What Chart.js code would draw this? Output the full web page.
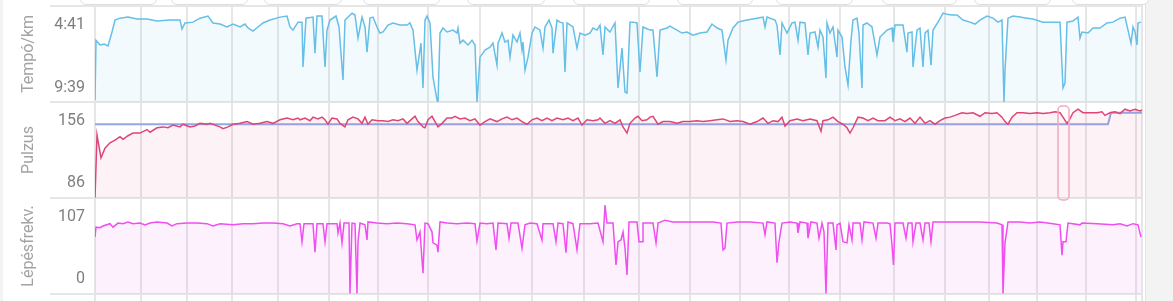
<!DOCTYPE html>
<html lang="hu">
<head>
<meta charset="utf-8">
<title>Tempó, pulzus, lépésfrekvencia</title>
<script src="https://cdn.jsdelivr.net/npm/chart.js@4.4.1/dist/chart.umd.min.js"></script>
<style>
  html, body { margin: 0; padding: 0; background: #f3f3f3; overflow: hidden; }
  #wrap { position: absolute; left: 3px; top: 0; width: 1142px; height: 301px; background: #fff; border-right: 1px solid #e4e4e4; }
  .chip { position: absolute; top: -12px; height: 17px; box-sizing: border-box; background: #fff; border: 1px solid #dedede; border-radius: 6px; z-index: 2; }
</style>
</head>
<body>
<div id="wrap"><canvas id="runChart" width="1142" height="301"></canvas></div>
<div class="chip" style="left:80px;width:77px"></div>
<div class="chip" style="left:171px;width:77px"></div>
<div class="chip" style="left:264px;width:78px"></div>
<div class="chip" style="left:363px;width:77px"></div>
<div class="chip" style="left:467px;width:78px"></div>
<div class="chip" style="left:573px;width:77px"></div>
<div class="chip" style="left:677px;width:76px"></div>
<div class="chip" style="left:776px;width:77px"></div>
<div class="chip" style="left:882px;width:75px"></div>
<div class="chip" style="left:974px;width:77px"></div>
<div class="chip" style="left:1072px;width:77px"></div>
<script>
// elapsed time in minutes, km split times
const totalMinutes = 104.7;
const kmMarks = [4.6, 9.2, 13.7, 18.3, 23.4, 28.3, 33.3, 38.5, 43.7, 48.9, 54.4, 59.5, 64.5, 69.4, 74.5, 79.9, 85.0, 89.4, 94.2, 99.1, 104.1];

// pace in seconds per km
const paceTime = [0,0.1,0.5,0.9,1.3,1.7,2.0,2.5,3.3,4.2,
  5.2,6.2,7.5,8.5,8.7,9.0,9.8,10.5,11.3,11.8,
  12.5,13.2,13.8,14.5,15.0,15.3,15.8,16.3,16.8,17.5,
  18.5,19.2,19.5,19.8,20.3,20.7,20.8,21.1,21.8,22.0,
  22.2,22.7,23.0,23.2,23.5,24.1,24.4,24.8,25.0,25.7,
  26.0,26.3,26.7,27.0,27.2,27.5,27.8,28.2,28.5,28.8,
  29.3,29.8,30.5,31.2,31.5,31.8,32.2,32.6,32.8,33.0,
  33.2,33.5,33.8,34.2,34.3,34.5,34.8,35.2,35.8,36.2,
  36.3,36.5,36.8,37.3,37.7,38.0,38.2,38.5,39.0,39.5,
  39.8,40.2,40.3,40.7,41.0,41.3,41.5,41.8,42.2,42.5,
  42.7,42.8,43.0,43.3,43.7,44.0,44.5,44.8,45.0,45.4,
  45.7,45.8,46.2,46.5,46.8,47.0,47.2,47.8,48.2,48.5,
  49.0,49.5,49.8,50.2,50.5,50.8,51.0,51.5,52.0,52.3,
  52.7,52.8,53.0,53.2,53.5,53.8,54.2,54.5,54.8,55.5,
  55.8,56.2,56.5,57.2,57.5,58.2,58.7,59.2,59.8,60.5,
  61.2,61.7,62.2,62.7,63.1,63.3,63.8,64.3,65.2,66.2,
  66.8,67.0,67.2,68.0,68.2,68.5,68.7,69.2,69.7,70.0,
  70.3,70.5,71.0,71.3,71.5,72.0,72.3,72.5,72.8,73.1,
  73.2,73.5,73.8,74.2,74.3,74.7,75.0,75.3,75.6,75.8,
  76.2,76.4,76.7,76.8,77.2,77.7,78.2,78.5,79.2,79.7,
  79.8,80.0,80.8,81.2,81.3,81.7,81.8,82.2,82.5,82.8,
  83.0,83.3,83.6,83.8,84.3,84.8,85.2,85.7,86.2,86.8,
  87.5,88.0,88.5,89.2,89.8,90.3,90.7,90.9,91.0,91.3,
  91.8,92.5,93.2,93.8,94.8,95.8,96.5,96.8,97.0,97.2,
  97.8,98.3,98.5,98.7,99.3,99.8,100.5,101.2,101.8,102.5,
  103.0,103.3,103.6,103.8,104.0,104.2,104.3,104.6];
const paceValues = [639,353,376,372,381,314,257,248,243,252,
  252,262,257,257,300,271,267,248,238,271,
  276,290,276,290,276,295,310,290,271,257,
  243,238,290,305,267,267,481,248,243,415,
  238,238,481,305,257,238,290,543,257,224,
  233,343,243,290,410,248,243,290,319,314,
  281,271,281,281,271,305,496,367,581,257,
  238,271,529,639,648,319,295,314,305,319,
  295,367,353,376,353,376,648,434,400,386,
  367,472,367,319,362,353,434,329,362,319,
  400,362,496,434,319,290,305,391,290,257,
  295,415,257,267,271,505,271,290,391,319,
  329,319,295,305,281,424,290,314,271,581,
  391,462,600,605,267,267,271,505,290,305,
  305,529,305,295,286,305,319,314,329,319,
  314,276,295,305,448,353,295,267,257,248,
  243,290,243,257,281,424,271,319,271,267,
  353,267,271,424,319,314,386,305,338,534,
  271,319,290,434,305,338,481,567,353,257,
  248,319,581,281,271,290,424,338,305,295,
  362,281,281,410,319,314,481,305,295,481,
  319,305,472,305,267,224,229,233,233,257,
  267,276,257,238,248,267,257,648,496,248,
  238,243,248,252,267,267,267,581,558,267,
  262,243,343,314,319,295,295,271,267,248,
  243,305,367,290,314,376,271,267];

// heart rate, bpm
const hrTime = [0,0.2,0.6,1.0,1.5,2.0,2.5,2.8,3.3,3.8,
  4.5,5.2,5.5,6.2,6.8,7.3,7.8,8.5,8.8,9.5,
  10.0,10.5,11.2,11.5,12.5,12.8,13.3,13.8,14.5,15.2,
  15.8,16.5,17.2,17.8,18.5,19.2,19.8,20.3,20.5,21.0,
  21.5,21.8,22.3,22.7,23.0,23.3,23.7,24.2,24.5,25.0,
  25.3,25.8,26.3,26.7,27.0,27.3,27.7,28.3,28.8,29.3,
  29.8,30.3,30.8,31.2,31.7,32.0,32.3,32.8,33.0,33.3,
  33.7,34.0,34.3,34.7,35.2,35.7,36.0,36.5,37.0,37.5,
  38.0,38.5,39.0,39.5,40.2,40.7,41.2,41.7,42.2,42.7,
  43.2,43.7,44.2,44.7,45.2,45.7,46.2,46.8,47.3,47.8,
  48.3,48.7,49.2,49.8,50.3,50.5,51.0,51.5,52.0,52.5,
  52.8,53.2,53.5,54.0,54.3,54.7,55.2,55.5,55.8,56.3,
  56.8,57.5,58.2,58.8,59.5,60.2,60.8,61.5,62.2,62.8,
  63.5,64.2,64.8,65.5,66.2,66.8,67.3,67.8,68.3,68.7,
  69.0,69.5,70.2,70.8,71.5,72.2,72.6,72.8,73.3,73.8,
  74.3,74.8,75.2,75.5,75.8,76.3,76.8,77.3,77.8,78.3,
  79.0,79.5,80.0,80.5,81.0,81.5,82.0,82.5,83.0,83.5,
  84.0,84.5,85.0,85.5,86.0,86.7,87.2,87.8,88.5,89.0,
  89.7,90.2,90.7,91.0,91.3,91.7,92.2,92.8,93.5,94.2,
  94.8,95.5,96.0,96.5,96.8,97.2,97.4,97.8,98.3,98.8,
  99.5,100.2,100.7,101.0,101.5,102.0,102.5,103.0,103.5,104.0,
  104.5,104.7];
const hrValues = [69,140,114,125,131,134,138,135,139,142,
  142,146,143,148,149,148,151,149,152,149,
  150,153,152,153,149,147,149,152,153,155,
  152,153,155,153,157,159,157,159,157,159,
  156,160,158,160,157,152,159,158,153,149,
  157,160,158,153,160,152,157,156,156,155,
  157,156,158,153,158,161,155,149,148,157,
  161,155,149,153,159,159,161,158,159,156,
  158,151,155,158,155,158,160,157,159,155,
  152,157,159,156,159,156,159,157,159,156,
  159,151,157,156,157,159,153,156,153,157,
  149,142,153,159,161,156,157,160,161,152,
  155,155,153,155,155,156,155,156,157,158,
  155,156,155,152,155,159,153,156,155,160,
  150,156,158,156,158,156,144,156,157,160,
  155,152,148,142,148,160,159,156,159,156,
  156,160,156,158,155,159,153,160,153,156,
  152,156,159,160,162,165,164,165,161,165,
  164,165,160,155,152,160,165,165,164,165,
  164,165,166,165,160,153,156,165,169,165,
  165,165,166,162,165,166,164,169,167,169,
  167,168];

// reference heart rate line
const zoneTime = [0, 101.3, 101.6, 104.7];
const zoneValues = [152, 152, 165, 165];

// cadence, steps per minute
const cadTime = [0,0.1,0.5,0.8,1.5,1.8,2.3,2.8,3.3,3.8,
  4.5,5.0,5.5,6.2,7.2,7.7,8.2,9.2,10.2,11.2,
  11.8,12.5,13.8,14.8,15.8,16.8,17.8,18.8,19.5,20.2,
  20.5,20.7,20.9,21.8,22.0,22.2,22.8,23.0,23.2,24.2,
  24.3,24.5,24.7,24.9,25.4,25.5,25.7,26.0,26.2,26.3,
  26.5,27.0,27.2,27.3,28.2,29.2,30.2,31.2,32.0,32.2,
  32.5,32.8,33.0,33.3,33.7,33.8,34.2,34.3,34.5,35.2,
  36.2,37.2,38.0,38.2,38.5,39.2,39.8,40.1,40.3,41.2,
  41.4,41.6,42.3,42.7,43.0,43.5,44.2,44.7,44.8,45.8,
  46.1,46.3,46.8,47.1,47.3,47.8,48.2,48.5,49.5,50.3,
  50.8,51.0,51.2,51.8,52.1,52.3,52.6,52.8,53.0,53.2,
  53.4,54.2,54.4,54.7,54.8,55.8,56.1,56.3,57.0,57.8,
  59.2,60.5,61.8,62.6,62.8,63.0,63.2,64.2,65.5,66.8,
  67.0,67.2,68.0,68.2,68.4,68.7,69.5,70.2,70.3,70.5,
  71.2,71.3,71.6,72.2,72.4,72.7,72.9,73.1,73.3,73.8,
  74.1,74.2,74.5,74.8,75.2,75.4,75.7,75.8,76.5,76.7,
  76.9,77.8,78.1,78.3,79.2,79.5,79.7,79.85,80.0,80.8,
  81.1,81.3,81.7,81.8,82.1,82.5,82.8,83.0,83.4,83.6,
  83.8,85.2,86.8,88.5,90.2,90.7,90.8,91.0,91.3,92.5,
  93.5,94.5,95.8,96.5,96.7,96.8,97.1,97.3,98.5,98.7,
  100.2,101.8,102.5,103.2,103.8,104.3,104.6];
const cadValues = [72,89,88,91,95,89,96,95,98,95,
  96,93,96,98,96,91,95,96,96,95,
  91,95,93,95,95,96,96,95,91,95,
  95,64,95,95,46,95,95,64,95,95,
  79,96,62,96,96,-25,96,95,-25,64,
  96,93,67,98,96,95,96,95,93,67,
  81,10,96,95,81,62,58,46,98,96,
  95,96,95,65,96,95,96,50,96,95,
  70,96,96,53,93,96,95,67,95,95,
  64,96,95,45,98,95,50,95,95,96,
  64,127,96,96,24,64,67,81,53,7,
  98,98,64,64,96,96,62,96,101,98,
  98,98,98,96,50,53,96,98,98,96,
  76,98,96,28,64,96,98,96,79,98,
  96,70,98,96,70,96,81,-25,96,96,
  50,93,96,64,62,93,67,96,96,67,
  98,96,70,96,96,95,58,24,96,96,
  70,96,96,64,96,96,67,96,96,64,
  98,98,98,98,96,93,-25,62,98,98,
  96,98,95,93,41,64,64,96,93,96,
  95,93,95,91,95,93,72];

const paceTicks = [281, 579];
const hrTicks = [86, 156];
const cadTicks = [0, 107];
const highlightRange = [96.3, 97.4];

const paceRange = [190, 648];
const hrRange = [68.7, 177.1];
const cadRange = [-25.8, 139.1];

function pairs(xs, ys) {
    return xs.map((t, i) => ({ x: t, y: ys[i] }));
}

function mmss(sec) {
    const m = Math.floor(sec / 60);
    const s = Math.round(sec - m * 60);
    return m + ':' + String(s).padStart(2, '0');
}

function panelAxis(title, range, ticks, weight, extra) {
    return Object.assign({
        type: 'linear',
        position: 'left',
        stack: 'panels',
        stackWeight: 1,
        weight: weight,
        min: range[0],
        max: range[1],
        grid: { display: false, drawTicks: false },
        border: { display: false },
        title: {
            display: true,
            text: title,
            color: '#a3a3a3',
            font: { family: 'Roboto', size: 16 },
            padding: { top: 16, bottom: 0 }
        },
        ticks: {
            color: '#7f7f7f',
            font: { family: 'Roboto', size: 16 },
            padding: 10
        },
        afterBuildTicks: (scale) => { scale.ticks = ticks.map(v => ({ value: v })); },
        afterFit: (scale) => {
            // fixed label column, no extra room for edge labels
            scale.width = 92;
            scale.paddingTop = 0;
            scale.paddingBottom = 0;
            scale.paddingLeft = 0;
            scale.paddingRight = 0;
        }
    }, extra || {});
}

// km grid lines over the full height, panel borders, lap highlight
const panelDecor = {
    id: 'panelDecor',
    beforeDatasetsDraw(chart) {
        const { ctx, chartArea, scales } = chart;
        ctx.save();
        ctx.strokeStyle = '#e6e6e6';
        ctx.lineWidth = 2;
        ctx.beginPath();
        [0, ...kmMarks, totalMinutes].forEach(t => {
            const x = Math.round(scales.x.getPixelForValue(t));
            ctx.moveTo(x, 0);
            ctx.lineTo(x, chart.height);
        });
        ['pace', 'hr', 'cad'].forEach(id => {
            const s = scales[id];
            [s.top, s.bottom].forEach(y => {
                ctx.moveTo(47, Math.round(y));
                ctx.lineTo(chartArea.right, Math.round(y));
            });
        });
        ctx.stroke();
        ctx.restore();
    },
    afterDatasetsDraw(chart) {
        const { ctx, scales } = chart;
        const s = scales.hr;
        const x0 = scales.x.getPixelForValue(highlightRange[0]);
        const x1 = scales.x.getPixelForValue(highlightRange[1]);
        ctx.save();
        ctx.strokeStyle = '#f2a9c0';
        ctx.lineWidth = 1.5;
        ctx.beginPath();
        ctx.roundRect(x0, s.top + 4, x1 - x0, s.bottom - s.top - 2, 4);
        ctx.stroke();
        ctx.restore();
    }
};

new Chart(document.getElementById('runChart'), {
    type: 'line',
    data: {
        datasets: [
            {
                label: 'Tempó/km',
                yAxisID: 'pace',
                data: pairs(paceTime, paceValues),
                borderColor: '#66bfe6',
                backgroundColor: 'rgba(102, 191, 230, 0.08)',
                borderWidth: 1.5,
                fill: 'start'
            },
            {
                label: 'Pulzus',
                yAxisID: 'hr',
                data: pairs(hrTime, hrValues),
                borderColor: '#dd4677',
                backgroundColor: 'rgba(221, 70, 119, 0.07)',
                borderWidth: 1.5,
                fill: 'start'
            },
            {
                label: 'Zóna',
                yAxisID: 'hr',
                data: pairs(zoneTime, zoneValues),
                borderColor: '#93a8e8',
                borderWidth: 2,
                fill: false
            },
            {
                label: 'Lépésfrekv.',
                yAxisID: 'cad',
                data: pairs(cadTime, cadValues),
                borderColor: '#f04ef0',
                backgroundColor: 'rgba(240, 78, 240, 0.08)',
                borderWidth: 1.5,
                fill: 'start'
            }
        ]
    },
    options: {
        responsive: false,
        animation: false,
        elements: { point: { radius: 0 }, line: { tension: 0 } },
        layout: { padding: { left: 0, right: 3, top: 6, bottom: 7 } },
        plugins: { legend: { display: false }, tooltip: { enabled: false } },
        scales: {
            x: { type: 'linear', display: false, min: 0, max: totalMinutes },
            pace: panelAxis('Tempó/km', paceRange, paceTicks, 3, {
                reverse: true,
                ticks: { color: '#7f7f7f', font: { family: 'Roboto', size: 16 }, padding: 10, callback: v => mmss(v) }
            }),
            hr: panelAxis('Pulzus', hrRange, hrTicks, 2),
            cad: panelAxis('Lépésfrekv.', cadRange, cadTicks, 1)
        }
    },
    plugins: [panelDecor]
});
</script>
</body>
</html>
